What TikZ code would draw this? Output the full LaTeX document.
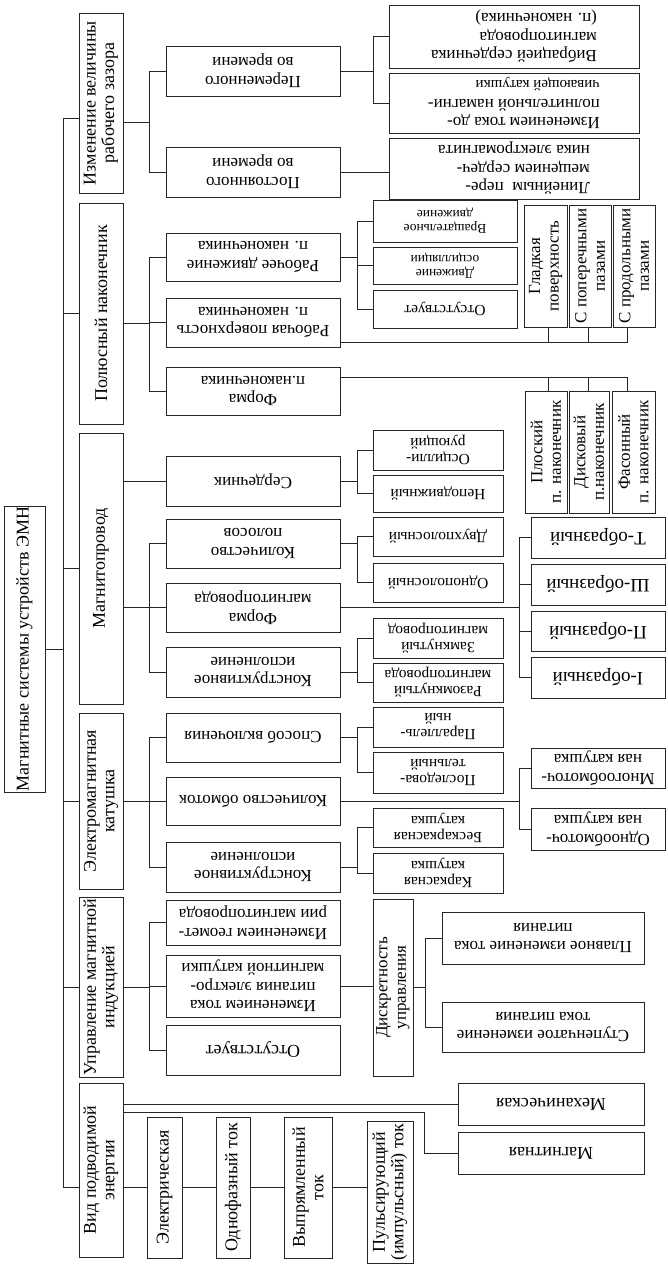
\documentclass[tikz,border=0pt]{standalone}
\usepackage{fontspec}
\setmainfont{Liberation Serif}
\usetikzlibrary{calc}

\tikzset{
  wire/.style={draw=black!85, line width=0.8pt},
  box/.style={draw=black!85, line width=0.8pt, inner sep=0pt},
  up/.style={rotate=90, align=center, inner sep=0pt},
  inv/.style={rotate=180, align=center, inner sep=0pt},
  f19/.style={font=\fontsize{19}{19.5}\selectfont},
  f18/.style={font=\fontsize{18}{18.5}\selectfont},
  f17/.style={font=\fontsize{17}{18.5}\selectfont},
  f16/.style={font=\fontsize{15.5}{16}\selectfont},
  f14/.style={font=\fontsize{13.5}{14}\selectfont}
}

\begin{document}
\begin{tikzpicture}[x=1pt, y=-1pt]
            \useasboundingbox (0,0) rectangle (667,1264);
            \node[box, minimum width=41pt, minimum height=286pt, label={[up,f18]center:{Магнитные системы устройств ЭМН}}] (root) at (24.5,649) {};
            \node[box, minimum width=44pt, minimum height=180pt, label={[up,f18]center:{Изменение величины\\рабочего зазора}}] (zaz) at (101,103) {};
            \node[box, minimum width=44pt, minimum height=221pt, label={[up,f18]center:{Полюсный наконечник}}] (pol) at (101,313.5) {};
            \node[box, minimum width=44pt, minimum height=271pt, label={[up,f18]center:{Магнитопровод}}] (mag) at (101,568.5) {};
            \node[box, minimum width=44pt, minimum height=176pt, label={[up,f18]center:{Электромагнитная\\катушка}}] (kat) at (101,801) {};
            \node[box, minimum width=44pt, minimum height=180pt, label={[up,f18]center:{Управление магнитной\\индукцией}}] (upr) at (101,987) {};
            \node[box, minimum width=44pt, minimum height=174pt, label={[up,f18]center:{Вид подводимой\\энергии}}] (vid) at (101,1170) {};

            \node[box, minimum width=174pt, minimum height=50pt, label={[inv,f17]center:{Переменного\\во времени}}] (per) at (253,71) {};
            \node[box, minimum width=174pt, minimum height=50pt, label={[inv,f17]center:{Постоянного\\во времени}}] (pos) at (253,172) {};
            \node[box, minimum width=174pt, minimum height=48pt, label={[inv,f17]center:{Рабочее движение\\п. наконечника}}] (dvi) at (253,257) {};
            \node[box, minimum width=174pt, minimum height=49pt, label={[inv,f17]center:{Рабочая поверхность\\п. наконечника}}] (pov) at (253,322.5) {};
            \node[box, minimum width=174pt, minimum height=48pt, label={[inv,f17]center:{Форма\\п.наконечника}}] (frm) at (253,391) {};
            \node[box, minimum width=174pt, minimum height=50pt, label={[inv,f17]center:{Сердечник}}] (ser) at (253,481) {};
            \node[box, minimum width=174pt, minimum height=49pt, label={[inv,f17]center:{Количество\\полосов}}] (kol) at (253,543.5) {};
            \node[box, minimum width=174pt, minimum height=49pt, label={[inv,f17]center:{Форма\\магнитопровода}}] (fmg) at (253,607.5) {};
            \node[box, minimum width=174pt, minimum height=50pt, label={[inv,f17]center:{Конструктивное\\исполнение}}] (kon) at (253,672) {};
            \node[box, minimum width=174pt, minimum height=49pt, label={[inv,f17]center:{Способ включения}}] (spo) at (253,737.5) {};
            \node[box, minimum width=174pt, minimum height=48pt, label={[inv,f17]center:{Количество обмоток}}] (kob) at (253,801) {};
            \node[box, minimum width=174pt, minimum height=50pt, label={[inv,f17]center:{Конструктивное\\исполнение}}] (kki) at (253,867) {};
            \node[box, minimum width=174pt, minimum height=45pt, label={[inv,f17]center:{Изменением геомет-\\рии магнитопровода}}] (igm) at (253,922.5) {};
            \node[box, minimum width=174pt, minimum height=62pt, label={[inv,f17]center:{Изменением тока\\питания электро-\\магнитной катушки}}] (itk) at (253,986) {};
            \node[box, minimum width=174pt, minimum height=50pt, label={[inv,f18]center:{Отсутствует}}] (ots) at (253,1050) {};

            \node[box, minimum width=250pt, minimum height=63pt, label={[inv,f17,align=left]center:{Вибрацией сердечника\\магнитопровода\\(п. наконечника)}}] (vib) at (514,36.5) {};
            \node[box, minimum width=250pt, minimum height=60pt, label={[inv,f17,align=left]center:{Изменением тока до-\\полнительной намагни-\\{\fontsize{15}{16}\selectfont чивающей катушки}}}] (dop) at (514,103) {};
            \node[box, minimum width=250pt, minimum height=61pt, label={[inv,f17,align=left]center:{Линейным\ \ пере-\\мещением сердеч-\\ника электромагнита}}] (lin) at (514,168.5) {};

            \node[box, minimum width=144pt, minimum height=42pt, label={[inv,f14]center:{Вращательное\\движение}}] (vra) at (445,221) {};
            \node[box, minimum width=144pt, minimum height=37pt, label={[inv,f14]center:{Движение\\осцилляции}}] (osc) at (445,265.5) {};
            \node[box, minimum width=144pt, minimum height=38pt, label={[inv,f16]center:{Отсутствует}}] (otp) at (445,309) {};

            \node[box, minimum width=43pt, minimum height=122pt, label={[up,f17]center:{Гладкая\\поверхность}}] (gla) at (545.5,266) {};
            \node[box, minimum width=42pt, minimum height=122pt, label={[up,f17]center:{С поперечными\\пазами}}] (pop) at (590,266) {};
            \node[box, minimum width=42pt, minimum height=122pt, label={[up,f17]center:{С продольными\\пазами}}] (prd) at (634,266) {};
            \node[box, minimum width=42pt, minimum height=122pt, label={[up,f17]center:{Плоский\\п. наконечник}}] (plo) at (546,452) {};
            \node[box, minimum width=40pt, minimum height=122pt, label={[up,f17]center:{Дисковый\\п.наконечник}}] (dis) at (589,452) {};
            \node[box, minimum width=43pt, minimum height=122pt, label={[up,f17]center:{Фасонный\\п. наконечник}}] (fas) at (633.5,452) {};

            \node[box, minimum width=130pt, minimum height=40pt, label={[inv,f16]center:{Осцилли-\\рующий}}] (osr) at (438,450) {};
            \node[box, minimum width=130pt, minimum height=37pt, label={[inv,f16]center:{Неподвижный}}] (nep) at (438,493.5) {};
            \node[box, minimum width=130pt, minimum height=39pt, label={[inv,f16]center:{Двухполосный}}] (dvu) at (438,536.5) {};
            \node[box, minimum width=130pt, minimum height=39pt, label={[inv,f16]center:{Однополосный}}] (odn) at (438,582.5) {};
            \node[box, minimum width=130pt, minimum height=40pt, label={[inv,f16]center:{Замкнутый\\магнитопровод}}] (zam) at (438,638) {};
            \node[box, minimum width=130pt, minimum height=39pt, label={[inv,f16]center:{Разомкнутый\\магнитопровода}}] (raz) at (438,682.5) {};
            \node[box, minimum width=130pt, minimum height=40pt, label={[inv,f16]center:{Параллель-\\ный}}] (par) at (438,727) {};
            \node[box, minimum width=130pt, minimum height=41pt, label={[inv,f16]center:{Последова-\\тельный}}] (psl) at (438,772.5) {};
            \node[box, minimum width=130pt, minimum height=39pt, label={[inv,f16]center:{Бескаркасная\\катушка}}] (bes) at (438,827.5) {};
            \node[box, minimum width=130pt, minimum height=40pt, label={[inv,f16]center:{Каркасная\\катушка}}] (kar) at (438,873) {};

            \node[box, minimum width=134pt, minimum height=41pt, label={[inv,f19]center:{Т-образный}}] (tob) at (598,537.5) {};
            \node[box, minimum width=134pt, minimum height=41pt, label={[inv,f19]center:{Ш-образный}}] (sob) at (598,584.5) {};
            \node[box, minimum width=134pt, minimum height=40pt, label={[inv,f19]center:{П-образный}}] (pob) at (598,631) {};
            \node[box, minimum width=134pt, minimum height=41pt, label={[inv,f19]center:{I-образный}}] (iob) at (598,677.5) {};
            \node[box, minimum width=134pt, minimum height=40pt, label={[inv,f17]center:{Многообмоточ-\\ная катушка}}] (mno) at (598,768) {};
            \node[box, minimum width=134pt, minimum height=42pt, label={[inv,f17]center:{Однообмоточ-\\ная катушка}}] (odo) at (598,829) {};

            \node[box, minimum width=40pt, minimum height=177pt, label={[up,f17]center:{Дискретность\\управления}}] (dsk) at (393,987.5) {};
            \node[box, minimum width=202pt, minimum height=52pt, label={[inv,f17]center:{Плавное изменение тока\\питания}}] (pla) at (543,938) {};
            \node[box, minimum width=202pt, minimum height=50pt, label={[inv,f17]center:{Ступенчатое изменение\\тока питания}}] (stu) at (543,1027) {};
            \node[box, minimum width=186pt, minimum height=42pt, label={[inv,f18]center:{Механическая}}] (mex) at (551,1104) {};
            \node[box, minimum width=186pt, minimum height=42pt, label={[inv,f18]center:{Магнитная}}] (mgn) at (551,1153) {};

            \node[box, minimum width=35pt, minimum height=141pt, label={[up,f18]center:{Электрическая}}] (ele) at (164.5,1187.5) {};
            \node[box, minimum width=34pt, minimum height=141pt, label={[up,f18]center:{Однофазный ток}}] (odf) at (233,1187.5) {};
            \node[box, minimum width=48pt, minimum height=141pt, label={[up,f18]center:{Выпрямленный\\ток}}] (vyp) at (308,1187.5) {};
            \node[box, minimum width=46pt, minimum height=142pt, label={[up,f18]center:{Пульсирующий\\(импульсный) ток}}] (pul) at (390,1192) {};

            % ствол
            \coordinate (t1) at (63,118);
            \coordinate (t2) at (63,1187);
            \draw[wire] (t1) -- (t2);
            \draw[wire] (root.east) -- (root.east -| t1);
            \draw[wire] (t1) -- (t1 -| zaz.west);
            \foreach \n in {pol,mag,kat,upr} \draw[wire] (\n.west -| t1) -- (\n.west);
            \draw[wire] (t2) -- (t2 -| vid.west);

            % второй уровень
            \foreach \c in {per,pos} \draw[wire] ([yshift=-19pt]zaz.east) -- ++(26,0) |- (\c.west);
            \foreach \c in {dvi,pov,frm} \draw[wire] ([yshift=-9.5pt]pol.east) -- ++(26,0) |- (\c.west);
            \draw[wire] (ser.west -| mag.east) -- (ser.west);
            \foreach \c in {kol,fmg,kon} \draw[wire] ([yshift=-39pt]mag.east) -- ++(26,0) |- (\c.west);
            \foreach \c in {spo,kob,kki} \draw[wire] (kat.east) -- ++(26,0) |- (\c.west);
            \foreach \c in {igm,itk,ots} \draw[wire] (upr.east) -- ++(26,0) |- (\c.west);

            % третий уровень
            \foreach \c in {vib,dop} \draw[wire] (per.east) -- ++(33,0) |- (\c.west);
            \draw[wire] (pos.east) -- (pos.east -| lin.west);
            \foreach \c in {vra,osc,otp} \draw[wire] (dvi.east) -- ++(17,0) |- (\c.west);
            \draw[wire] ([yshift=-19.5pt]pov.east) -| ([xshift=2.5pt]gla.south);
            \draw[wire] ([yshift=-19.5pt]pov.east) -| ([xshift=-2pt]pop.south);
            \draw[wire] ([yshift=-19.5pt]pov.east) -| ([xshift=-7pt]prd.south);
            \draw[wire] ([yshift=14pt]frm.east) -| ([xshift=2pt]plo.north);
            \draw[wire] ([yshift=14pt]frm.east) -| ([xshift=-1pt]dis.north);
            \draw[wire] ([yshift=14pt]frm.east) -| ([xshift=-6.5pt]fas.north);
            \foreach \c in {osr,nep} \draw[wire] (ser.east) -- ++(17,0) |- (\c.west);
            \foreach \c in {dvu,odn} \draw[wire] (kol.east) -- ++(17,0) |- (\c.west);
            \foreach \c in {zam,raz} \draw[wire] (kon.east) -- ++(17,0) |- (\c.west);
            \foreach \c in {par,psl} \draw[wire] (spo.east) -- ++(17,0) |- (\c.west);
            \foreach \c in {bes,kar} \draw[wire] (kki.east) -- ++(17,0) |- (\c.west);
            \foreach \c in {tob,sob,pob,iob} \draw[wire] (fmg.east) -- ++(179,0) |- (\c.west);
            \foreach \c in {mno,odo} \draw[wire] (kob.east) -- ++(179,0) |- (\c.west);
            \draw[wire] (itk.east) -- (itk.east -| dsk.west);
            \foreach \c in {pla,stu} \draw[wire] (dsk.east) -- ++(12,0) |- (\c.west);

            % энергия
            \coordinate (vk) at (424,1112);
            \draw[wire] (mex.west -| vid.east) -- (mex.west);
            \draw[wire] (vk -| vid.east) -- (vk) |- (mgn.west);
            \draw[wire] (ele.west -| vid.east) -- (ele.west);
            \draw[wire] (ele.east) -- (odf.west);
            \draw[wire] (odf.east) -- (vyp.west);
            \draw[wire] (vyp.east) -- (vyp.east -| pul.west);
        \end{tikzpicture}
\end{document}
